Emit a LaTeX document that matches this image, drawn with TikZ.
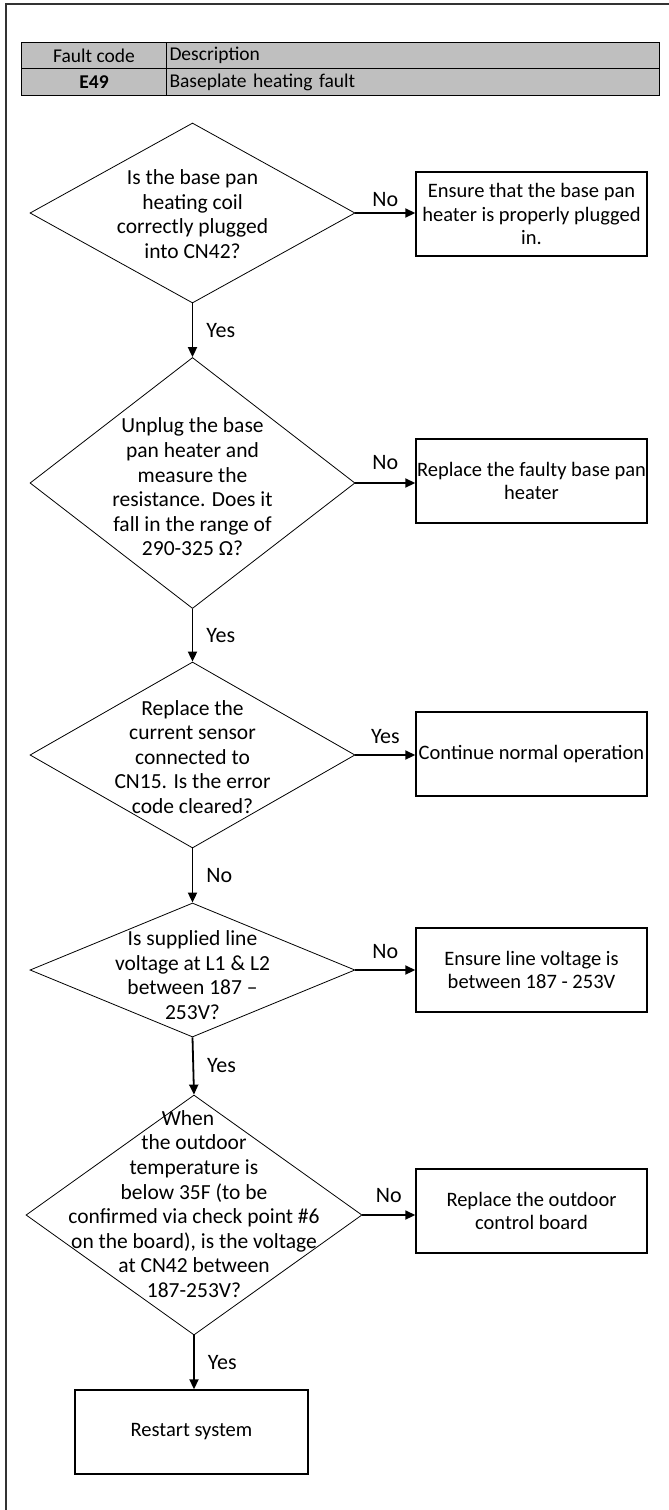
\documentclass[tikz,border=0pt]{standalone}
\usepackage{fontspec}
\setmainfont{Carlito}
\usetikzlibrary{shapes.geometric,arrows.meta}
\begin{document}
\begin{tikzpicture}[x=1pt,y=-1pt,
  dia/.style={draw, shape=diamond, line width=0.8pt, inner sep=0pt, aspect=1},
  dtext/.style={align=center, font=\fontsize{21.5}{24.6}\selectfont, inner sep=0pt},
  box/.style={draw, line width=1.4pt, minimum width=231pt, minimum height=84pt, inner sep=1pt, align=center, font=\fontsize{20.5}{23.5}\selectfont},
  flow/.style={line width=1.8pt, -{Triangle[length=10pt,width=9pt]}},
  lbl/.style={font=\fontsize{22}{24}\selectfont, inner sep=0pt},
  cell/.style={draw, line width=1pt, fill=black!25, inner sep=0pt, font=\fontsize{19.5}{21}\selectfont}
]
\useasboundingbox (0,0) rectangle (669,1510);
% frame
\draw[line width=1.2pt, black!80] (6,1510) -- (6,4) -- (669,4);
% table
\node[cell, minimum width=145pt, minimum height=26pt, anchor=north west] (h1) at (21,42) {Fault code};
\node[cell, minimum width=493pt, minimum height=26pt, anchor=north west, text width=487pt] (h2) at (166,42) {Description};
\node[cell, minimum width=145pt, minimum height=27pt, anchor=north west] (r1) at (21,68) {\textbf{E49}};
\node[cell, minimum width=493pt, minimum height=27pt, anchor=north west, text width=487pt] (r2) at (166,68) {Baseplate heating fault};

% diamonds
\node[dia, minimum width=325pt, minimum height=180pt] (d1) at (192.5,213) {};
\node[dtext] (t1) at (192.5,214) {Is the base pan\\heating coil\\correctly plugged\\into CN42?};
\node[dia, minimum width=325pt, minimum height=251pt] (d2) at (192.5,483) {};
\node[dtext] (t2) at (192.5,487) {Unplug the base\\pan heater and\\measure the\\resistance. Does it\\fall in the range of\\290-325 Ω?};
\node[dia, minimum width=325pt, minimum height=186pt] (d3) at (192.5,755) {};
\node[dtext] (t3) at (192.5,757) {Replace the\\current sensor\\connected to\\CN15. Is the error\\code cleared?};
\node[dia, minimum width=325pt, minimum height=134pt] (d4) at (192.5,970) {};
\node[dtext] (t4) at (192.5,975) {Is supplied line\\voltage at L1 \& L2\\between 187 –\\253V?};
\node[dia, minimum width=336pt, minimum height=240pt] (d5) at (194,1215) {};
\node[dtext] (t5) at (194,1204) {\hspace*{-12pt}When\\the outdoor\\temperature is\\below 35F (to be\\confirmed via check point \#6\\on the board), is the voltage\\at CN42 between\\187-253V?};

% boxes
\node[box] (b1) at (531.5,214) {Ensure that the base pan\\heater is properly plugged\\in.};
\node[box] (b2) at (531.5,481) {Replace the faulty base pan\\heater};
\node[box] (b3) at (531.5,754) {Continue normal operation};
\node[box] (b4) at (531.5,970) {Ensure line voltage is\\between 187 - 253V};
\node[box] (b5) at (531.5,1211) {Replace the outdoor\\control board};
\node[box, minimum width=233pt] (b6) at (191.5,1432) {Restart system};

% horizontal arrows
\draw[flow] (d1.east) -- (b1.west |- d1.east) node[lbl, midway, above=5pt] {No};
\draw[flow] (d2.east) -- (b2.west |- d2.east) node[lbl, midway, above=12pt] {No};
\draw[flow] (d3.east) -- (b3.west |- d3.east) node[lbl, midway, above=10pt] {Yes};
\draw[flow] (d4.east) -- (b4.west |- d4.east) node[lbl, midway, above=10pt] {No};
\draw[flow] (d5.east) -- (b5.west |- d5.east) node[lbl, midway, above=11pt] {No};

% vertical arrows
\draw[flow] (d1.south) -- (d2.north) node[lbl, midway, right=13pt] {Yes};
\draw[flow] (d2.south) -- (d3.north) node[lbl, midway, right=13pt] {Yes};
\draw[flow] (d3.south) -- (d4.north) node[lbl, midway, right=13pt] {No};
\draw[flow] (d4.south) -- (d5.north) node[lbl, midway, right=13pt] {Yes};
\draw[flow] (d5.south) -- (b6.north -| d5.south) node[lbl, midway, right=13pt] {Yes};
\end{tikzpicture}
\end{document}
